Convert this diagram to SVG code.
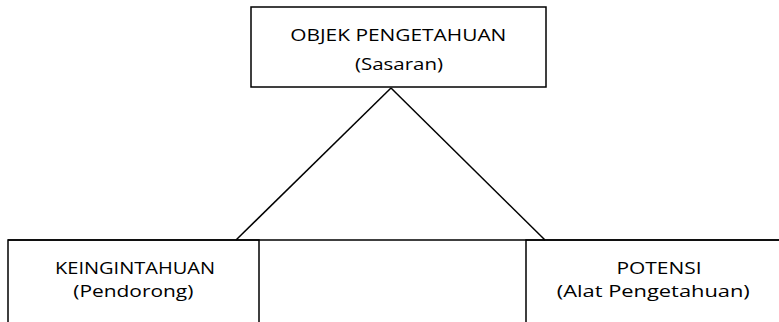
<svg xmlns="http://www.w3.org/2000/svg" width="779" height="322" viewBox="0 0 779 322">
<style>
.box{fill:#fff;stroke:#000;stroke-width:1.5}
.ln{fill:none;stroke:#000;stroke-width:1.5}
text{font-family:"Open Sans","Liberation Sans",sans-serif;font-size:16px;fill:#000;text-anchor:middle}
</style>
<rect width="779" height="322" fill="#fff"/>
<g id="connectors">
<line class="ln" x1="8" y1="240" x2="779" y2="240"/>
<line class="ln" x1="391" y1="88" x2="236" y2="240"/>
<line class="ln" x1="391" y1="88" x2="545" y2="240"/>
</g>
<g id="objek">
<rect class="box" x="251" y="7" width="295" height="80"/>
<text x="398.3" y="41" textLength="216" lengthAdjust="spacingAndGlyphs">OBJEK PENGETAHUAN</text>
<text x="399" y="69.5" textLength="88" lengthAdjust="spacingAndGlyphs">(Sasaran)</text>
</g>
<g id="keingintahuan">
<path class="ln" d="M8,323 V240 H259 V323"/>
<text x="135" y="274" textLength="160" lengthAdjust="spacingAndGlyphs">KEINGINTAHUAN</text>
<text x="133.3" y="296.7" textLength="120" lengthAdjust="spacingAndGlyphs">(Pendorong)</text>
</g>
<g id="potensi">
<path class="ln" d="M526,323 V240 H780"/>
<text x="659" y="274.3" textLength="85" lengthAdjust="spacingAndGlyphs">POTENSI</text>
<text x="653.3" y="296.7" textLength="193" lengthAdjust="spacingAndGlyphs">(Alat Pengetahuan)</text>
</g>
</svg>
